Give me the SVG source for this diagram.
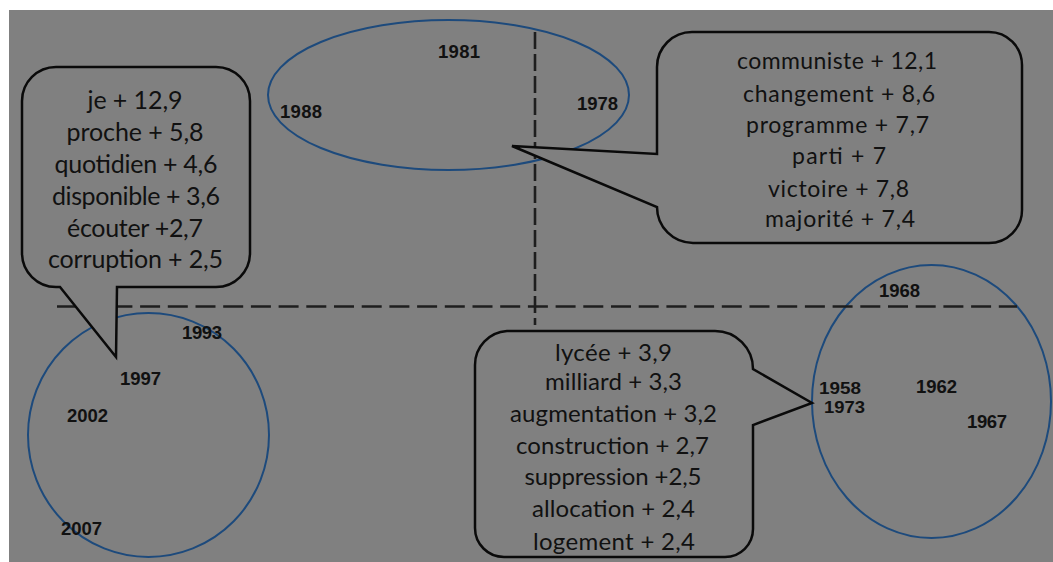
<svg xmlns="http://www.w3.org/2000/svg" width="1053" height="562" viewBox="0 0 1053 562">
<style>
.ell{fill:none;stroke:#1d4a7c;stroke-width:2}
.call{fill:#808080;stroke:#0a0a0a;stroke-width:2.5;stroke-linejoin:miter}
.yr{font-family:"Liberation Sans",Arial,sans-serif;font-weight:700;font-size:18.5px;fill:#111}
.yr.sm{font-size:16.5px}
.w{font-family:Lato,"Open Sans",sans-serif;fill:#111;text-anchor:middle}
.axis{stroke:#1e1e1e;stroke-width:2.6;fill:none}
</style>
<rect x="0" y="0" width="1053" height="562" fill="#ffffff"/>
<rect x="9" y="10" width="1044" height="552" fill="#808080"/>

<g id="cluster-top">
<ellipse class="ell" cx="448.5" cy="95" rx="180.5" ry="75"/>
<text class="yr" x="438" y="58" textLength="42">1981</text>
<text class="yr" x="280" y="118" textLength="42">1988</text>
<text class="yr" x="577" y="110" textLength="41">1978</text>
</g>
<g id="cluster-left">
<ellipse class="ell" cx="148.5" cy="435" rx="120.5" ry="122"/>
<text class="yr" x="182" y="339" textLength="40">1993</text>
<text class="yr" x="120" y="385" textLength="41">1997</text>
<text class="yr" x="67" y="422" textLength="41">2002</text>
<text class="yr" x="61" y="535" textLength="41">2007</text>
</g>
<g id="cluster-right">
<ellipse class="ell" cx="931.5" cy="401.5" rx="119.5" ry="136.5"/>
<text class="yr" x="879" y="297" textLength="41">1968</text>
<text class="yr sm" x="819" y="394" textLength="42" lengthAdjust="spacingAndGlyphs">1958</text>
<text class="yr sm" x="824" y="412.5" textLength="41" lengthAdjust="spacingAndGlyphs">1973</text>
<text class="yr" x="916" y="393" textLength="41">1962</text>
<text class="yr" x="967" y="428" textLength="40">1967</text>
</g>

<g id="axes">
<line class="axis" x1="57" y1="306.5" x2="1017" y2="306.5" stroke-dasharray="20 7.7"/>
<line class="axis" x1="535" y1="32" x2="535" y2="325" stroke-dasharray="17 5"/>
</g>

<g id="callout-left">
<path class="call" d="M56,67 H216 A34,34 0 0 1 250,101 V253 A34,34 0 0 1 216,287 H117 L116,357 L60,287 H56 A34,34 0 0 1 22,253 V101 A34,34 0 0 1 56,67 Z"/>
<g class="w" font-size="25">
<text x="135" y="109" textLength="95">je + 12,9</text>
<text x="135" y="140.5" textLength="137">proche + 5,8</text>
<text x="136" y="173" textLength="163">quotidien + 4,6</text>
<text x="136" y="205" textLength="168">disponible + 3,6</text>
<text x="135" y="236.5" textLength="136">écouter +2,7</text>
<text x="135.5" y="268" textLength="175">corruption + 2,5</text>
</g>
</g>

<g id="callout-top-right">
<path class="call" d="M692,32 H989 A33,33 0 0 1 1022,65 V210 A33,33 0 0 1 989,243 H693 A36,36 0 0 1 657,207 L512,146 L657,154 V67 A35,35 0 0 1 692,32 Z"/>
<g class="w" font-size="23">
<text x="837" y="69.3" textLength="200">communiste + 12,1</text>
<text x="839" y="101.7" textLength="192">changement + 8,6</text>
<text x="837.5" y="132.7" textLength="183">programme + 7,7</text>
<text x="839" y="164" textLength="94">parti + 7</text>
<text x="838.5" y="196.7" textLength="141">victoire + 7,8</text>
<text x="840" y="226.7" textLength="150">majorité + 7,4</text>
</g>
</g>

<g id="callout-bottom">
<path class="call" d="M507,331 H715 A38,38 0 0 1 753,369 L812,403 L753,425 V529 A28,28 0 0 1 725,557 H504 A29,29 0 0 1 475,528 V365 A34,34 0 0 1 507,331 Z"/>
<g class="w" font-size="24">
<text x="613.5" y="360.7" textLength="117">lycée + 3,9</text>
<text x="613.5" y="390" textLength="137">milliard + 3,3</text>
<text x="613.5" y="421.7" textLength="207">augmentation + 3,2</text>
<text x="612.5" y="454" textLength="193">construction + 2,7</text>
<text x="613" y="485" textLength="177">suppression +2,5</text>
<text x="613.5" y="516.7" textLength="163">allocation + 2,4</text>
<text x="614" y="550" textLength="162">logement + 2,4</text>
</g>
</g>
</svg>
